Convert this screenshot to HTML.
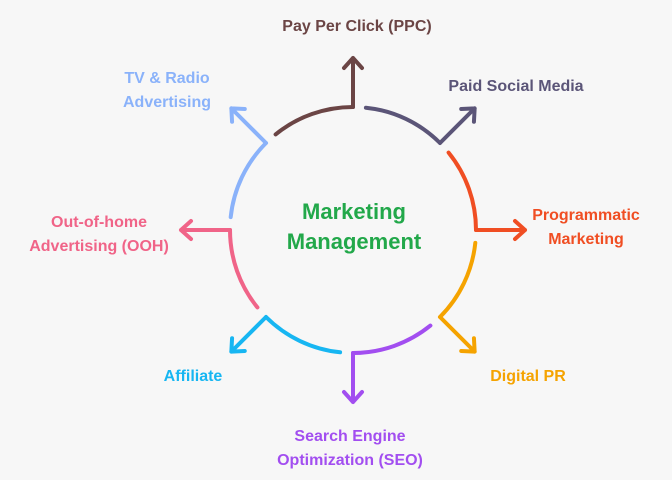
<!DOCTYPE html>
<html><head><meta charset="utf-8"><style>
html,body{margin:0;padding:0;background:#f7f7f7;}
svg{display:block;}
text{font-family:"Liberation Sans",sans-serif;font-weight:bold;font-size:16px;}
</style></head><body>
<svg width="672" height="480" viewBox="0 0 672 480" xmlns="http://www.w3.org/2000/svg">
<rect width="672" height="480" fill="#f7f7f7"/>
<g fill="none" stroke-width="4" stroke-linecap="round" stroke-linejoin="round">
<g stroke="#6b4545"><path d="M275.6 134.4 A123 123 0 0 1 353 107"/><g transform="translate(353,107) rotate(-90)"><path d="M0 0 H49 M39 -9 L49 0 L39 9"/></g></g>
<g stroke="#5b5578"><path d="M365.9 107.7 A123 123 0 0 1 440 143"/><g transform="translate(440,143) rotate(-45)"><path d="M0 0 H49 M39 -9 L49 0 L39 9"/></g></g>
<g stroke="#f04e23"><path d="M448.6 152.6 A123 123 0 0 1 476 230"/><g transform="translate(476,230) rotate(0)"><path d="M0 0 H49 M39 -9 L49 0 L39 9"/></g></g>
<g stroke="#f5a300"><path d="M475.3 242.9 A123 123 0 0 1 440 317"/><g transform="translate(440,317) rotate(45)"><path d="M0 0 H49 M39 -9 L49 0 L39 9"/></g></g>
<g stroke="#a24ef0"><path d="M430.4 325.6 A123 123 0 0 1 353 353"/><g transform="translate(353,353) rotate(90)"><path d="M0 0 H49 M39 -9 L49 0 L39 9"/></g></g>
<g stroke="#17b6f2"><path d="M340.1 352.3 A123 123 0 0 1 266 317"/><g transform="translate(266,317) rotate(135)"><path d="M0 0 H49 M39 -9 L49 0 L39 9"/></g></g>
<g stroke="#f06488"><path d="M257.4 307.4 A123 123 0 0 1 230 230"/><g transform="translate(230,230) rotate(180)"><path d="M0 0 H49 M39 -9 L49 0 L39 9"/></g></g>
<g stroke="#8ab2fa"><path d="M230.7 217.1 A123 123 0 0 1 266 143"/><g transform="translate(266,143) rotate(-135)"><path d="M0 0 H49 M39 -9 L49 0 L39 9"/></g></g>
</g>
<g text-anchor="middle">
<text x="357" y="31" fill="#6b4545">Pay Per Click (PPC)</text>
<text x="516" y="91" fill="#5b5578">Paid Social Media</text>
<text x="586" y="220" fill="#f04e23">Programmatic</text>
<text x="586" y="244" fill="#f04e23">Marketing</text>
<text x="528" y="381" fill="#f5a300">Digital PR</text>
<text x="350" y="441" fill="#a24ef0">Search Engine</text>
<text x="350" y="465" fill="#a24ef0">Optimization (SEO)</text>
<text x="193" y="381" fill="#17b6f2">Affiliate</text>
<text x="99" y="227" fill="#f06488">Out-of-home</text>
<text x="99" y="251" fill="#f06488">Advertising (OOH)</text>
<text x="167" y="83" fill="#8ab2fa">TV &amp; Radio</text>
<text x="167" y="107" fill="#8ab2fa">Advertising</text>
<text x="354" y="219" fill="#22a84a" style="font-size:22px">Marketing</text>
<text x="354" y="249" fill="#22a84a" style="font-size:22px">Management</text>
</g>
</svg>
</body></html>
